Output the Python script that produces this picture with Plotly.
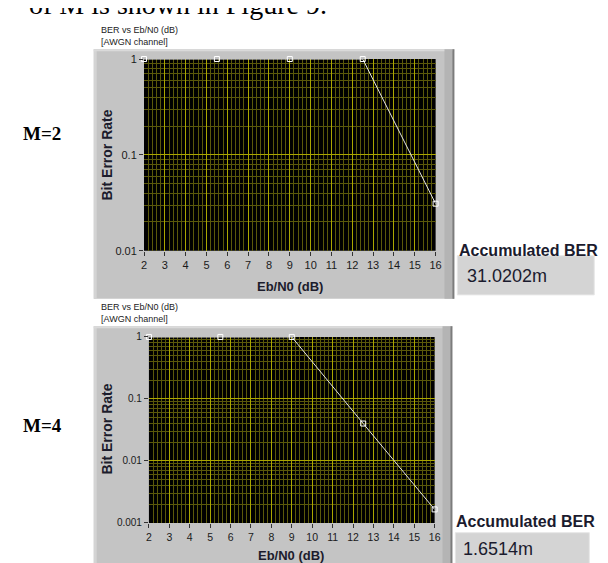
import plotly.graph_objects as go

W, H = 608, 563

# ---- data ----
ebn0 = [2, 5.5, 9, 12.5, 16]
ber_m2 = [1, 1, 1, 1, 0.0310202]
ber_m4 = [1, 1, 1, 0.0401, 0.0016514]
x_ticks = list(range(2, 17))
y_ticks_top = [1, 0.1, 0.01]
y_ticks_top_text = ["1", "0.1", "0.01"]
y_ticks_bot = [1, 0.1, 0.01, 0.001]
y_ticks_bot_text = ["1", "0.1", "0.01", "0.001"]
acc_ber_top = "31.0202m"
acc_ber_bot = "1.6514m"


def px(x):
    return x / W


def py(y):
    return 1 - y / H


MAJOR = "#aaa600"
MINOR = "#5a580a"
TICKFONT = dict(family="Liberation Sans", size=11, color="#1a1a1a")

fig = go.Figure()
fig.add_trace(go.Scatter(
    x=ebn0, y=ber_m2, mode="lines+markers", xaxis="x", yaxis="y",
    line=dict(color="#e6e6e6", width=1),
    marker=dict(symbol="square-open", size=5, color="#ffffff", line=dict(width=1)),
    showlegend=False, cliponaxis=False))
fig.add_trace(go.Scatter(
    x=ebn0, y=ber_m4, mode="lines+markers", xaxis="x2", yaxis="y2",
    line=dict(color="#e6e6e6", width=1),
    marker=dict(symbol="square-open", size=5, color="#ffffff", line=dict(width=1)),
    showlegend=False, cliponaxis=False))


def xaxis(domain, anchor, fsize):
    return dict(domain=domain, anchor=anchor, range=[2, 16], tickmode="array",
                tickvals=x_ticks, ticks="outside", ticklen=4, tickcolor="#333",
                tickfont=dict(TICKFONT, size=fsize), showgrid=True, gridcolor=MAJOR,
                gridwidth=1, zeroline=False, showline=False,
                minor=dict(dtick=0.2, showgrid=True, gridcolor=MINOR, gridwidth=1))


def yaxis(domain, anchor, rng, vals, text, fsize):
    return dict(domain=domain, anchor=anchor, type="log", range=rng, tickmode="array",
                tickvals=vals, ticktext=text, ticks="outside", ticklen=4, tickcolor="#333",
                tickfont=dict(TICKFONT, size=fsize), showgrid=True, gridcolor=MAJOR,
                gridwidth=1, zeroline=False, showline=False,
                minor=dict(dtick="D1", showgrid=True, gridcolor=MINOR, gridwidth=1))


shapes = []


def rect(x0, y0, x1, y1, fill, line=None):
    shapes.append(dict(type="rect", xref="paper", yref="paper", x0=px(x0), x1=px(x1),
                       y0=py(y1), y1=py(y0), fillcolor=fill,
                       line=line if line else dict(width=0), layer="below"))


def panel(x0, y0, x1, y1, plot):
    rect(x0, y0, x1, y1, "#c4c4c4")
    rect(x0, y0, x0 + 3, y1, "#d4d4d4")        # left highlight
    rect(x0, y0, x1, y0 + 2, "#dadada")        # top highlight
    rect(x1 - 10, y0, x1 - 2, y1, "#b4b4b4")   # right bevel
    rect(x1 - 2, y0, x1, y1, "#7c7c7c")
    rect(*plot, "#000000")                     # plot area background


panel(84, 36, 450, 291, (135, 46, 431, 242))
panel(84, 319, 448, 566, (140, 330, 430, 520))

# indicator boxes
rect(453, 247, 592, 287, "#d4d4d4", dict(color="#e6e6e6", width=1))
rect(451, 530, 587, 566, "#d4d4d4", dict(color="#e6e6e6", width=1))

ann = []


def text(x, y, s, size, family="Liberation Sans", bold=False, color="#1a1a1a",
         xanchor="left", yanchor="middle", angle=0):
    ann.append(dict(x=px(x), y=py(y), xref="paper", yref="paper",
                    text=("<b>%s</b>" % s) if bold else s,
                    showarrow=False, xanchor=xanchor, yanchor=yanchor, textangle=angle,
                    font=dict(family=family, size=size, color=color)))


text(16, 8, "of M is shown in Figure 9.", 28, family="Liberation Serif", color="#000",
     yanchor="bottom")
text(10, 122, "M=2", 19, family="Liberation Serif", bold=True, color="#000")
text(10, 420, "M=4", 19, family="Liberation Serif", bold=True, color="#000")

# chart captions
text(89, 16, "BER vs Eb/N0 (dB)", 9, color="#222")
text(89, 29, "[AWGN channel]", 9, color="#222")
text(89, 299, "BER vs Eb/N0 (dB)", 9, color="#222")
text(89, 312, "[AWGN channel]", 9, color="#222")

# axis titles
text(97, 144, "Bit Error Rate", 14, bold=True, color="#1c1c2c", xanchor="center", angle=-90)
text(283, 278, "Eb/N0 (dB)", 13, bold=True, color="#1c1c2c", xanchor="center")
text(97, 424, "Bit Error Rate", 14, bold=True, color="#1c1c2c", xanchor="center", angle=-90)
text(284, 553, "Eb/N0 (dB)", 13, bold=True, color="#1c1c2c", xanchor="center")

# accumulated BER indicators
text(453, 242, "Accumulated BER", 16, bold=True, color="#1b1b2e")
text(461, 268, acc_ber_top, 18, color="#1b1b2e")
text(450, 519, "Accumulated BER", 16, bold=True, color="#1b1b2e")
text(457, 547, acc_ber_bot, 18, color="#1b1b2e")

fig.update_layout(
    width=W, height=H, margin=dict(l=0, r=0, t=0, b=0),
    paper_bgcolor="#ffffff", plot_bgcolor="#000000",
    xaxis=xaxis([px(135), px(431)], "y", 11),
    yaxis=yaxis([py(242), py(46)], "x", [-2, 0], y_ticks_top, y_ticks_top_text, 11),
    xaxis2=xaxis([px(140), px(430)], "y2", 10.5),
    yaxis2=yaxis([py(520), py(330)], "x2", [-3, 0], y_ticks_bot, y_ticks_bot_text, 10),
    shapes=shapes, annotations=ann,
)

fig.write_html("out.html")
